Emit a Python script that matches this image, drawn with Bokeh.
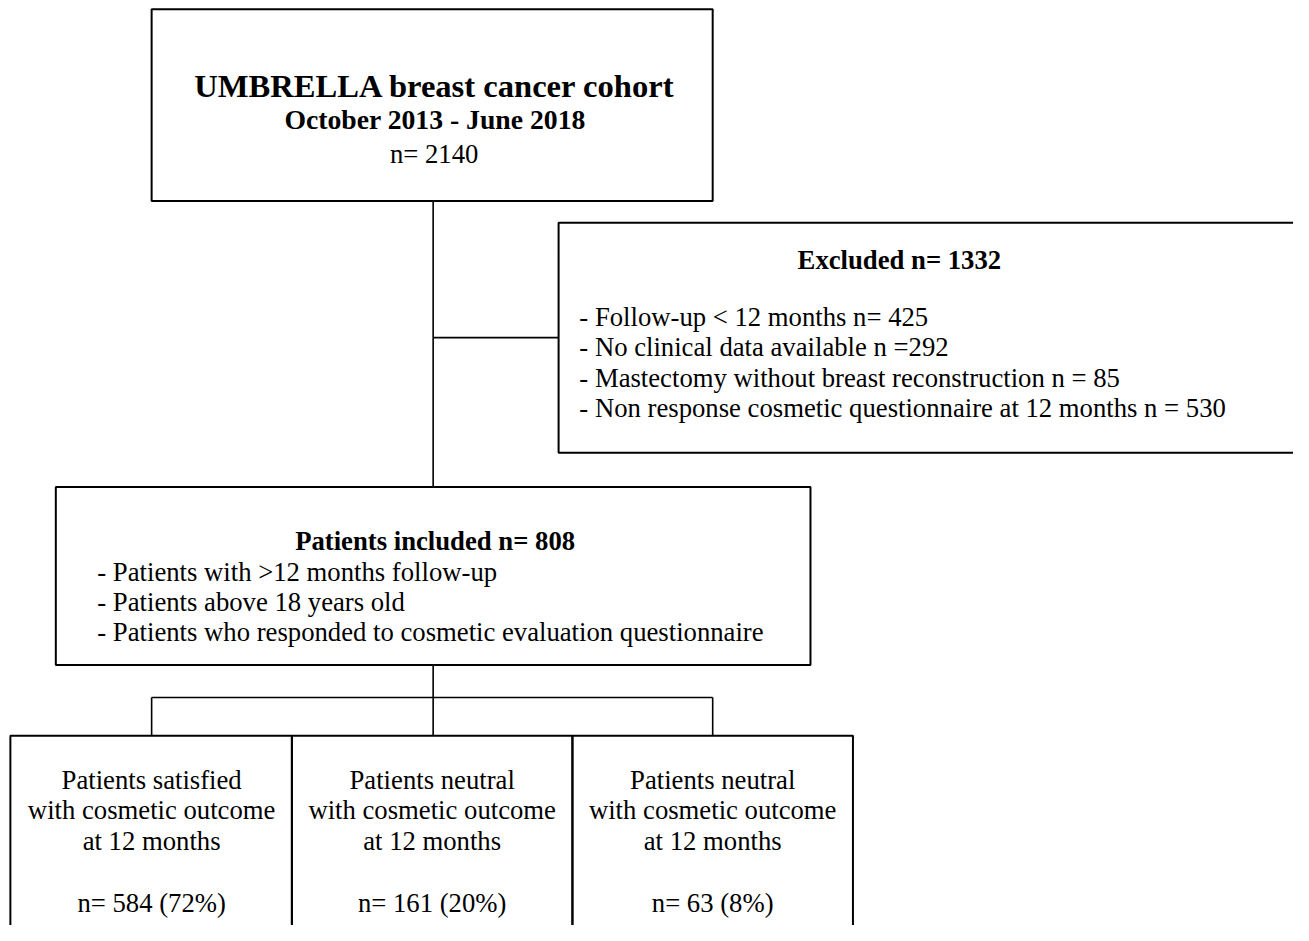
from bokeh.plotting import figure
from bokeh.models import Range1d, ColumnDataSource
from bokeh.core.properties import value
from bokeh.embed import file_html
from bokeh.resources import INLINE

# ---------------- data ----------------
cohort_title = "UMBRELLA breast cancer cohort"
cohort_period = "October 2013 - June 2018"
cohort_n = 2140

excluded_total = 1332
excluded_reasons = [
    "Follow-up < 12 months n= 425",
    "No clinical data available n =292",
    "Mastectomy without breast reconstruction n = 85",
    "Non response cosmetic questionnaire at 12 months n = 530",
]

included_n = 808
inclusion_criteria = [
    "Patients with >12 months follow-up",
    "Patients above 18 years old",
    "Patients who responded to cosmetic evaluation questionnaire",
]

outcome_labels = ["Patients satisfied", "Patients neutral", "Patients neutral"]
outcome_detail = ["with cosmetic outcome", "with cosmetic outcome", "with cosmetic outcome"]
outcome_time = ["at 12 months", "at 12 months", "at 12 months"]
outcome_n = [584, 161, 63]
outcome_pct = [72, 20, 8]

# ---------------- layout (diagram units ~ reference pixels) ----------------
FONT = value("Liberation Serif")
W, H = 1293, 925
DW, DH = 1309, 941
S = W / DW  # uniform scale from diagram units to screen pixels

p = figure(width=W, height=H, output_backend="svg", toolbar_location=None,
           x_range=Range1d(0, DW), y_range=Range1d(DH, 0),
           x_axis_location=None, y_axis_location=None, min_border=0,
           tools="")
p.grid.visible = False
p.outline_line_color = None
p.background_fill_color = "white"
p.border_fill_color = "white"

# boxes: top cohort, excluded, included, three outcomes
box_left = [153, 565, 56, 10, 295, 579]
box_right = [721, 1340, 820, 295, 579, 863]
box_top = [9, 226, 495, 748, 748, 748]
box_bottom = [204, 460, 676, 970, 970, 970]
p.quad(left=box_left, right=box_right, top=box_top, bottom=box_bottom,
       fill_color=None, line_color="black", line_width=2)

# connectors
cx = 438
seg = dict(
    x0=[cx, cx, cx, 153, 153, cx, 721],
    y0=[204, 343, 676, 709, 709, 709, 709],
    x1=[cx, 565, cx, 721, 153, cx, 721],
    y1=[495, 343, 709, 709, 748, 748, 748],
)
p.segment(x0="x0", y0="y0", x1="x1", y1="y1", source=ColumnDataSource(seg),
          line_color="black", line_width=1.6)

def txt(xs, ys, texts, size, style="normal", align="center"):
    p.text(x=xs, y=ys, text=texts, text_font=FONT,
           text_font_size=f"{size * S:.1f}px",
           text_font_style=style, text_align=align, text_baseline="alphabetic",
           text_color="black")

# top box
txt([440], [87], [cohort_title], 33, "bold")
txt([440], [121], [cohort_period], 28, "bold")
txt([439], [156], [f"n= {cohort_n}"], 27)

# excluded box
txt([910], [264], [f"Excluded n= {excluded_total}"], 27, "bold")
txt([586] * len(excluded_reasons), [321.5 + 31.1 * i for i in range(len(excluded_reasons))],
    [f"- {r}" for r in excluded_reasons], 27, align="left")

# included box
txt([440], [550], [f"Patients included n= {included_n}"], 27, "bold")
txt([98] * len(inclusion_criteria), [581 + 30.7 * i for i in range(len(inclusion_criteria))],
    [f"- {c}" for c in inclusion_criteria], 27, align="left")

# outcome boxes
centers = [153, 437, 721]
txt(centers, [793] * 3, outcome_labels, 27)
txt(centers, [824] * 3, outcome_detail, 27)
txt(centers, [855] * 3, outcome_time, 27)
txt(centers, [918] * 3, [f"n= {n} ({pc}%)" for n, pc in zip(outcome_n, outcome_pct)], 27)

open("out.html", "w").write(file_html(p, INLINE))
